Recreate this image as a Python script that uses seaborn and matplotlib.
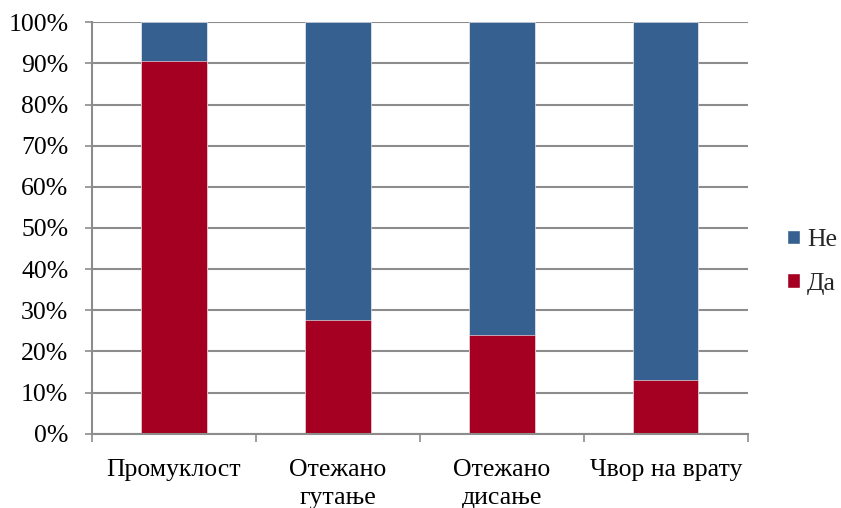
import matplotlib
matplotlib.use("Agg")
import matplotlib.pyplot as plt
import matplotlib.patches as mpatches
from matplotlib.ticker import FixedLocator, PercentFormatter
import seaborn as sns
import pandas as pd

categories = ["Промуклост", "Отежано\nгутање", "Отежано\nдисање", "Чвор на врату"]
da_pct = [90.6, 27.6, 24.0, 13.0]
ne_pct = [100 - v for v in da_pct]

blue = "#35608F"
red = "#A50021"
grid_grey = "#8C8C8C"

sns.set_theme(style="white")
plt.rcParams["font.family"] = ["Liberation Serif", "DejaVu Serif"]

df = pd.DataFrame({"cat": categories, "da": da_pct,
                   "total": [d + n for d, n in zip(da_pct, ne_pct)]})

fig = plt.figure(figsize=(8.41, 5.08), dpi=100)
ax = fig.add_axes([0.1094, 0.1463, 0.7796, 0.8098])

sns.barplot(data=df, x="cat", y="total", color=blue, width=0.4,
            saturation=1, ax=ax, edgecolor="white", linewidth=0.4)
sns.barplot(data=df, x="cat", y="da", color=red, width=0.4,
            saturation=1, ax=ax, edgecolor="white", linewidth=0.4)

ax.set_xlim(-0.5, len(categories) - 0.5)
ax.set_ylim(0, 100)
ax.set_yticks(range(0, 101, 10))
ax.yaxis.set_major_formatter(PercentFormatter(decimals=0))
ax.set_xlabel("")
ax.set_ylabel("")

ax.grid(axis="y", color=grid_grey, linewidth=1.5)
ax.set_axisbelow(True)
for side in ("top", "right"):
    ax.spines[side].set_visible(False)
for side in ("left", "bottom"):
    ax.spines[side].set_color(grid_grey)
    ax.spines[side].set_linewidth(1.5)

ax.tick_params(axis="y", which="major", left=True, length=5, width=1.2,
               color=grid_grey, labelsize=18.5, pad=12, labelcolor="black")
ax.tick_params(axis="x", which="major", bottom=False, labelsize=18.5,
               pad=12, labelcolor="black")
ax.xaxis.set_minor_locator(FixedLocator([i - 0.5 for i in range(len(categories) + 1)]))
ax.tick_params(axis="x", which="minor", bottom=True, length=6, width=1.2,
               color=grid_grey)
for lbl in ax.get_xticklabels():
    lbl.set_linespacing(1.38)

handles = [mpatches.Patch(facecolor=blue, label="Не"),
           mpatches.Patch(facecolor=red, label="Да")]
fig.legend(handles=handles, loc="center left", bbox_to_anchor=(0.9235, 0.4843),
           frameon=False, fontsize=18.5, handlelength=0.5, handleheight=0.5,
           handletextpad=0.28, labelspacing=0.85, borderaxespad=0)

fig.savefig("out.png", dpi=100)
